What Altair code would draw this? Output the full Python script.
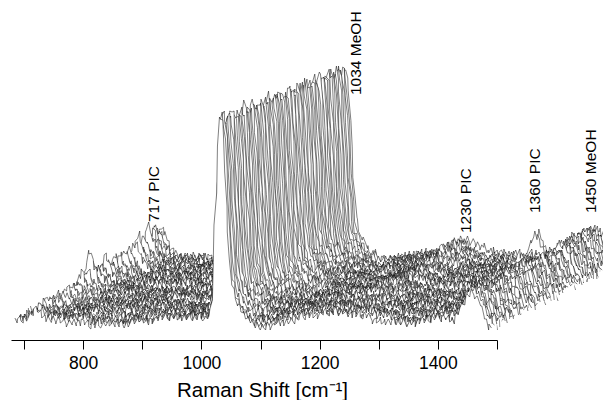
import altair as alt
import pandas as pd

FONT = "Liberation Sans"

# Raman shift grid of the spectra (cm-1): 323 samples, 2.5 cm-1 apart
wavenumber = [685 + 2.5 * i for i in range(323)]

baseline = [
    17, 17, 18, 18, 18, 18, 18, 18, 19, 19,
    19, 19, 19, 19, 19, 19, 19, 19, 19, 19,
    19, 20, 20, 20, 20, 19, 19, 19, 19, 20,
    20, 20, 20, 20, 19, 19, 19, 19, 19, 20,
    20, 20, 20, 20, 20, 19, 19, 19, 20, 20,
    20, 20, 20, 20, 20, 20, 19, 19, 19, 19,
    19, 19, 19, 19, 19, 19, 19, 19, 19, 19,
    18, 18, 18, 17, 17, 17, 17, 16, 16, 16,
    16, 16, 16, 17, 17, 17, 18, 18, 19, 19,
    20, 20, 21, 21, 22, 22, 22, 23, 23, 23,
    24, 24, 24, 24, 24, 24, 24, 24, 24, 24,
    24, 24, 24, 24, 24, 24, 24, 23, 23, 23,
    23, 23, 22, 22, 22, 22, 21, 21, 20, 20,
    19, 19, 18, 18, 18, 17, 17, 17, 17, 18,
    18, 19, 20, 21, 21, 21, 20, 20, 19, 19,
    19, 19, 19, 19, 19, 19, 18, 18, 18, 17,
    16, 14,
]

# Band profiles (wavenumber -> height)
band_1034 = {1010: 2, 1012.5: 3, 1015: 6, 1017.5: 22, 1020: 55, 1022.5: 92, 1025: 130, 1027.5: 170,
             1030: 200, 1032.5: 203, 1035: 199, 1037.5: 178, 1040: 150, 1042.5: 118, 1045: 88,
             1047.5: 64, 1050: 46, 1052.5: 37, 1055: 30, 1057.5: 26, 1060: 22, 1062.5: 19,
             1065: 16, 1067.5: 14, 1070: 12, 1072.5: 10, 1075: 9, 1077.5: 8, 1080: 7, 1082.5: 6,
             1085: 5, 1087.5: 4, 1090: 3, 1092.5: 2, 1095: 2, 1097.5: 1, 1100: 1}
band_1450 = {1430: 3, 1432.5: 5, 1435: 8, 1437.5: 11, 1440: 14, 1442.5: 18, 1445: 22, 1447.5: 26,
             1450: 29, 1452.5: 29, 1455: 29, 1457.5: 29, 1460: 29, 1462.5: 28, 1465: 27,
             1467.5: 25, 1470: 22, 1472.5: 18, 1475: 14, 1477.5: 10, 1480: 7, 1482.5: 4,
             1485: 2, 1487.5: 1}
band_717 = {702.5: .03, 705: .08, 707.5: .2, 710: .35, 712.5: .55, 715: .75, 717.5: .9, 720: 1,
            722.5: .9, 725: .75, 727.5: .62, 730: .5, 732.5: .4, 735: .3, 737.5: .22, 740: .15,
            742.5: .1, 745: .05}
band_1230 = {1205: .1, 1207.5: .17, 1210: .25, 1212.5: .32, 1215: .4, 1217.5: .5, 1220: .6,
             1222.5: .72, 1225: .85, 1227.5: .93, 1230: 1, 1232.5: .95, 1235: .9, 1237.5: .85,
             1240: .8, 1242.5: .72, 1245: .65, 1247.5: .57, 1250: .5, 1252.5: .45, 1255: .4,
             1257.5: .35, 1260: .3, 1262.5: .25, 1265: .2, 1267.5: .15, 1270: .1}
band_1360 = {1345: .1, 1347.5: .25, 1350: .4, 1352.5: .55, 1355: .7, 1357.5: .85, 1360: 1,
             1362.5: .9, 1365: .8, 1367.5: .67, 1370: .55, 1372.5: .42, 1375: .3, 1377.5: .2, 1380: .1}

# Waterfall offsets of the 80 spectra, front to back
x_shift = [0, 2.7, 5.4, 8.1, 10.7, 13.4, 16.1, 18.8, 21.5, 24.2,
           26.8, 29.5, 32.2, 34.9, 37.6, 40.3, 42.9, 45.6, 48.3, 51,
           53.7, 56.4, 59, 61.7, 64.4, 67.1, 69.8, 72.5, 75.2, 77.8,
           80.5, 83.2, 85.9, 88.6, 91.3, 93.9, 96.6, 99.3, 102, 104.7,
           107.4, 110, 112.7, 115.4, 118.1, 120.8, 123.5, 126.1, 128.8, 131.5,
           134.2, 136.9, 139.6, 142.3, 144.9, 147.6, 150.3, 153, 155.7, 158.4,
           161, 163.7, 166.4, 169.1, 171.8, 174.5, 177.1, 179.8, 182.5, 185.2,
           187.9, 190.6, 193.2, 195.9, 198.6, 201.3, 204, 206.7, 209.4, 212]
y_shift = [0, 1, 2, 2, 3, 4, 5, 6, 6, 7,
           8, 9, 9, 10, 11, 12, 13, 13, 14, 15,
           16, 16, 17, 18, 19, 20, 20, 21, 22, 23,
           24, 24, 25, 26, 27, 27, 28, 29, 30, 31,
           31, 32, 33, 34, 35, 35, 36, 37, 38, 38,
           39, 40, 41, 42, 42, 43, 44, 45, 46, 46,
           47, 48, 49, 49, 50, 51, 52, 53, 53, 54,
           55, 56, 57, 57, 58, 59, 60, 60, 61, 62]
# Band heights per spectrum
height_717 = [10, 8, 12, 9, 7, 13, 10, 8, 14, 11,
              9, 15, 12, 8, 16, 11, 10, 18, 13, 9,
              20, 14, 11, 22, 15, 10, 24, 16, 12, 26,
              17, 13, 28, 18, 42, 30, 16, 14, 24, 17,
              12, 26, 18, 15, 28, 20, 13, 27, 19, 16,
              26, 21, 14, 29, 20, 17, 30, 22, 15, 28,
              21, 18, 31, 23, 16, 33, 24, 19, 30, 22,
              17, 36, 25, 20, 34, 38, 26, 30, 24, 33]
height_1230 = [0, 0, 1, 0, 0, 1, 2, 1, 0, 1,
               2, 1, 2, 3, 1, 2, 3, 2, 3, 4,
               2, 3, 4, 3, 5, 4, 3, 5, 4, 6,
               5, 4, 6, 5, 7, 6, 5, 7, 6, 8,
               6, 7, 8, 7, 9, 7, 8, 10, 8, 9,
               10, 8, 9, 11, 9, 10, 12, 10, 9, 11,
               10, 12, 11, 9, 12, 11, 13, 10, 12, 14,
               11, 13, 12, 14, 11, 13, 15, 12, 14, 13]
height_1360 = [0, 0, 0, 0, 0, 0, 0, 0, 0, 0,
               0, 1, 0, 0, 1, 0, 1, 0, 1, 1,
               2, 1, 0, 2, 1, 2, 1, 3, 1, 2,
               2, 3, 1, 3, 2, 4, 2, 3, 4, 2,
               4, 3, 5, 3, 4, 6, 4, 5, 3, 6,
               5, 7, 4, 6, 8, 8, 5, 7, 9, 6,
               5, 7, 6, 8, 6, 9, 23, 7, 10, 8,
               9, 7, 11, 8, 10, 9, 27, 10, 12, 28]
scale_1034 = [1, 1, 1, .99, 1, .99, .99, 1, .99, .99,
              .99, .98, .99, .99, .98, .99, .98, .98, .99, .98,
              .98, .98, .97, .98, .98, .97, .98, .97, .97, .98,
              .97, .97, .98, .97, .97, .97, .96, .97, .97, .96,
              .97, .97, .96, .97, .96, .96, .97, .96, .96, .97,
              .96, .96, .96, .95, .96, .96, .95, .96, .95, .96,
              .95, .95, .96, .95, .95, .96, .95, .95, .95, .96,
              .95, .95, .94, .95, .95, .94, .95, .95, .94, .95]

# Fine texture of the traces; individual traces cannot be separated in the
# reference, so these are hand-estimated wiggles of the size seen there
wiggle_a = [2, -3, 1, 4, -2, -4, 3, 0, -3, 2, 5, -1, -4, 1, 3, -2, 0, 4, -3, -1, 2, -4, 3]
wiggle_b = [-1, 3, -4, 2, 0, 4, -3, 1, -2, 5, -3, -1, 3, -5, 2, 1, -2, 4, 0, -4, 3, -1, 2, -3, 4, 0, -2, 3, -4]
wiggle_c = [3, 0, -2, 4, -4, 1, 2, -3, 5, -1, -3, 2, 0, 3, -5, 1, 4, -2, -1, 3, -4, 2, 1, -3, 4, -1, 0, -4, 2, 3, -2]
wiggle_d = [-2, 4, 1, -3, 3, -1, -4, 2, 0, 5, -3, 1, -2, 3, -4, 4, -1, 2, -5, 0, 3, -2, 4, 1, -3, 2, -1, -4, 3, 0, 4, -3, 1, -2, 5, -1, -3]
wiggles = [wiggle_a, wiggle_b, wiggle_c, wiggle_d]
slow_a = [3, 1, -2, -4, -3, 0, 3, 4, 2, -1, -4, -2, 1, 4, 2, -3, -1]
slow_b = [-2, -4, -1, 2, 4, 3, -1, -3, -4, 0, 3, 2, -2, -4, 1, 4, 0, -3, 2]
slows = [slow_a, slow_b]

TICKS = [700, 800, 900, 1000, 1100, 1200, 1300, 1400, 1500]
x_axis = alt.Axis(values=TICKS, labelExpr="datum.value % 200 === 0 ? datum.value : ''",
                  grid=False, domainColor="black", domainWidth=1, tickColor="black",
                  tickWidth=1, tickSize=9, labelFont=FONT, labelFontSize=17.5,
                  labelColor="black", labelPadding=5, labelOverlap=False, labelFlush=False,
                  title="Raman Shift [cm⁻¹]", titleFont=FONT, titleFontSize=20.5,
                  titleFontWeight="normal", titleColor="black", titlePadding=9,
                  titleX=251, zindex=1)
x_enc = alt.X("x:Q", scale=alt.Scale(domain=[678, 1500], nice=False, zero=False), axis=x_axis)
y_enc = alt.Y("y:Q", scale=alt.Scale(domain=[0, 332], nice=False, zero=False), axis=None)


def spectrum(k):
    w = wiggles[k % 4]
    jitter = wiggles[(k + 1) % 4]
    s = slows[k % 2]
    rows = []
    for i, wn in enumerate(wavenumber):
        y = (baseline[i // 2] + y_shift[k]
             + scale_1034[k] * band_1034.get(wn, 0)
             + band_1450.get(wn, 0)
             + height_717[k] * band_717.get(wn, 0)
             + height_1230[k] * band_1230.get(wn, 0)
             + height_1360[k] * band_1360.get(wn, 0)
             + w[(i + 7 * k) % len(w)]
             + s[(i // 16 + 3 * k) % len(s)])
        x = wn + x_shift[k] + 0.3 * jitter[(i + 11 * k) % len(jitter)]
        rows.append({"x": round(x, 1), "y": round(y, 1)})
    return pd.DataFrame(rows)


layers = []
for k in range(len(x_shift) - 1, -1, -1):
    df = spectrum(k)
    layers.append(alt.Chart(df).mark_area(color="white", opacity=1).encode(
        x=x_enc, y=y_enc, y2=alt.Y2(datum=1)))
    layers.append(alt.Chart(df).mark_line(color="black", strokeWidth=0.5).encode(x=x_enc, y=y_enc))

# Peak annotations
label_text = ["717 PIC", "1034 MeOH", "1230 PIC", "1360 PIC", "1450 MeOH"]
label_px = [143, 345, 455, 524, 580]
label_py = [214, 87, 225, 205, 205]
for t, px, py in zip(label_text, label_px, label_py):
    layers.append(alt.Chart(pd.DataFrame({"t": [t]})).mark_text(
        angle=270, align="left", baseline="middle", font=FONT, fontSize=15.5, color="black"
    ).encode(x=alt.value(px), y=alt.value(py), text="t:N"))

chart = alt.layer(*layers).properties(
    width=486, height=332, autosize="none",
    padding={"left": 3, "top": 0, "right": 106, "bottom": 60},
).configure_view(stroke=None)

chart.save("out.html", embed_options={"renderer": "svg", "actions": False})
